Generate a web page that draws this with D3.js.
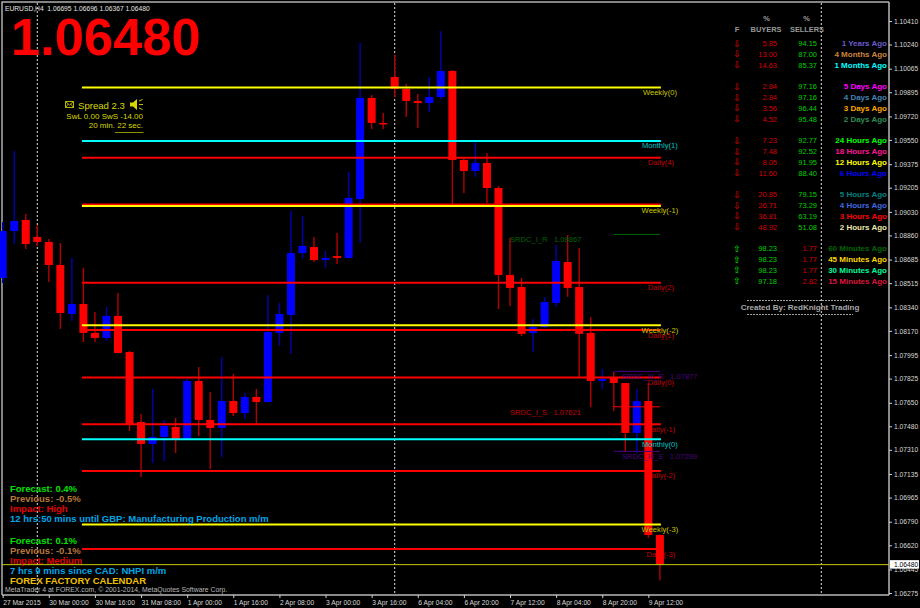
<!DOCTYPE html>
<html lang="en">
<head>
  <meta charset="UTF-8">
  <title>EURUSD H4</title>
  <script src="https://d3js.org/d3.v7.min.js"></script>
  <style>
    html, body { margin: 0; padding: 0; background: #000; }
    svg { display: block; }
    text { font-family: "Liberation Sans", Arial, sans-serif; }
    .axis text { fill: #d8d8d8; font-size: 6.7px; font-family: "Liberation Sans", Arial, sans-serif; }
    .axis line { stroke: #d0d0d0; }
    .axis path { stroke: #b8b8b8; stroke-width: 1.5px; }
    .news { font-size: 9.5px; font-weight: bold; }
    .ago { font-size: 8px; font-weight: bold; text-anchor: end; }
    .pct { font-size: 7.5px; text-anchor: end; }
    .head { font-size: 7.4px; font-weight: bold; fill: #999; text-anchor: middle; }
    .lvl { font-size: 7.6px; text-anchor: middle; }
  </style>
</head>
<body>
  <svg width="920" height="608"></svg>
  <script>
    // EURUSD H4 candles, index 0 = 27 Mar 2015
    const barOpen = [1.08552,1.08892,1.08972,1.08849,1.08813,1.08646,1.08292,1.08364,1.08155,1.08119,
      1.08278,1.08017,1.07511,1.07352,1.07403,1.07475,1.07388,1.07808,1.07526,1.07468,
      1.07663,1.07576,1.07692,1.07656,1.08155,1.08285,1.08733,1.08776,1.08682,1.08711,
      1.08697,1.09123,1.09854,1.09673,1.10005,1.09919,1.09832,1.09817,1.09861,1.10049,
      1.09405,1.09326,1.09384,1.09203,1.08574,1.08487,1.08155,1.08198,1.08372,1.08668,
      1.08487,1.08155,1.07808,1.07837,1.07793,1.07432,1.07663,1.06695];
    const barHigh = [1.08957,1.09470,1.09015,1.08935,1.08834,1.08805,1.08697,1.08625,1.08307,1.08343,
      1.08444,1.08025,1.07569,1.07750,1.07526,1.07540,1.07822,1.07909,1.07728,1.07981,
      1.07858,1.07721,1.07750,1.08429,1.08372,1.09037,1.09001,1.08849,1.08748,1.08878,
      1.09319,1.10251,1.09875,1.09745,1.10164,1.09955,1.09882,1.10005,1.10338,1.10056,
      1.09420,1.09535,1.09456,1.09217,1.08841,1.08552,1.08256,1.08415,1.08791,1.08863,
      1.08769,1.08270,1.07894,1.07873,1.07793,1.07750,1.07793,1.06696];
    const barLow = [1.08516,1.08798,1.08762,1.08784,1.08523,1.08184,1.08241,1.08090,1.08090,1.08097,
      1.08010,1.07446,1.07114,1.07215,1.07229,1.07287,1.07388,1.07410,1.07172,1.07258,
      1.07555,1.07533,1.07504,1.07649,1.08061,1.08003,1.08690,1.08668,1.08625,1.08654,
      1.08690,1.08805,1.09629,1.09629,1.09861,1.09716,1.09637,1.09752,1.09846,1.09087,
      1.09167,1.09282,1.09095,1.08328,1.08350,1.08133,1.08017,1.08191,1.08343,1.08415,
      1.07837,1.07620,1.07750,1.07591,1.07294,1.07287,1.06673,1.06367];
    const barClose = [1.08892,1.08964,1.08798,1.08813,1.08646,1.08299,1.08364,1.08155,1.08119,1.08278,
      1.08010,1.07497,1.07352,1.07403,1.07482,1.07388,1.07808,1.07526,1.07468,1.07663,
      1.07576,1.07692,1.07656,1.08162,1.08292,1.08733,1.08784,1.08682,1.08697,1.08697,
      1.09131,1.09854,1.09673,1.09666,1.09919,1.09832,1.09817,1.09861,1.10049,1.09405,
      1.09326,1.09384,1.09203,1.08574,1.08480,1.08148,1.08198,1.08379,1.08675,1.08480,
      1.08148,1.07808,1.07822,1.07793,1.07432,1.07663,1.06694,1.06480];

    const priceTicks = [1.10410,1.10240,1.10065,1.09895,1.09720,1.09550,1.09375,1.09205,1.09030,1.08860,
      1.08685,1.08515,1.08340,1.08170,1.07995,1.07825,1.07650,1.07480,1.07310,1.07135,
      1.06965,1.06790,1.06620,1.06445,1.06275];
    const timeTickBars = [0,4,8,12,16,20,24,28,32,36,40,44,48,52,56];
    const timeLabels = ["27 Mar 2015","30 Mar 00:00","30 Mar 16:00","31 Mar 08:00","1 Apr 00:00","1 Apr 16:00",
      "2 Apr 08:00","3 Apr 00:00","3 Apr 16:00","6 Apr 04:00","6 Apr 20:00","7 Apr 12:00",
      "8 Apr 04:00","8 Apr 20:00","9 Apr 12:00"];
    const separatorBars = [3, 34, 71];

    const lastPrice = 1.06480;

    // pivot levels
    const dailyNames = ["Daily(4)","Daily(3)","Daily(2)","Daily(1)","Daily(0)","Daily(-1)","Daily(-2)","Daily(-3)"];
    const dailyValues = [1.09422,1.09084,1.08518,1.08176,1.07833,1.07495,1.07157,1.06593];
    const weeklyNames = ["Weekly(0)","Weekly(-1)","Weekly(-2)","Weekly(-3)"];
    const weeklyValues = [1.09929,1.09073,1.08210,1.06770];
    const monthlyNames = ["Monthly(1)","Monthly(0)"];
    const monthlyValues = [1.09543,1.07386];

    // support / resistance boxes
    const srdcNames = ["SRDC_I_R","SRDC_I_S","SRDC_III_R","SRDC_III_S"];
    const srdcValues = [1.08867,1.07621,1.07877,1.07299];
    const srdcColors = ["#006400","#ff0000","#4b0082","#4b0082"];

    // sentiment table
    const agoLabels = ["1 Years Ago","4 Months Ago","1 Months Ago","5 Days Ago","4 Days Ago","3 Days Ago","2 Days Ago",
      "24 Hours Ago","18 Hours Ago","12 Hours Ago","6 Hours Ago","5 Hours Ago","4 Hours Ago","3 Hours Ago","2 Hours Ago",
      "60 Minutes Ago","45 Minutes Ago","30 Minutes Ago","15 Minutes Ago"];
    const agoColors = ["#6a5acd","#cd853f","#00ffff","#ff00ff","#4682b4","#ffa500","#2e8b57",
      "#00ff00","#ff1493","#ffff00","#0000ff","#008080","#4169e1","#ff0000","#eee8aa",
      "#006400","#ffd700","#00fa9a","#dc143c"];
    const buyers = [5.85,13.00,14.63,2.84,2.84,3.56,4.52,7.23,7.48,8.05,11.60,20.85,26.71,36.81,48.92,98.23,98.23,98.23,97.18];
    const sellers = [94.15,87.00,85.37,97.16,97.16,96.44,95.48,92.77,92.52,91.95,88.40,79.15,73.29,63.19,51.08,1.77,1.77,1.77,2.82];

    const newsLines = [
      ["Forecast: 0.4%", "#00e000", 488.3],
      ["Previous: -0.5%", "#b8773a", 498.7],
      ["Impact: High", "#e00000", 508.7],
      ["12 hrs:50 mins until GBP: Manufacturing Production m/m", "#00a5e6", 518.7],
      ["Forecast: 0.1%", "#00e000", 540.3],
      ["Previous: -0.1%", "#b8773a", 550.7],
      ["Impact: Medium", "#e00000", 561],
      ["7 hrs 9 mins since CAD: NHPI m/m", "#00a5e6", 571],
      ["FOREX FACTORY CALENDAR", "#f0c000", 581]
    ];

    const svg = d3.select("svg");

    const x = d3.scaleLinear().domain([0, 57]).range([2.7, 659.9]);
    const y = d3.scaleLinear().domain([1.10410, 1.06275]).range([21, 593]);

    const plotRight = 889, plotBottom = 595, plotLeft = 2, plotTop = 2;
    const bars = d3.range(barOpen.length);
    const lineX0 = x(7) - 1.5, lineX1 = x(57) + 1;

    // frame and axes
    svg.append("path")
      .attr("d", `M${plotLeft},${plotBottom}V${plotTop}H${plotRight}`)
      .attr("fill", "none")
      .attr("stroke", "#b0b0b0")
      .attr("stroke-width", 1.5);

    const yAxis = d3.axisRight(y).tickValues(priceTicks).tickSize(3).tickPadding(2).tickFormat(d3.format(".5f"));
    svg.append("g").attr("class", "axis").attr("transform", `translate(${plotRight},0)`).call(yAxis)
      .call(g => g.select(".domain").attr("d", `M0,${plotTop}V${plotBottom}`));

    const xAxis = d3.axisBottom(x).tickValues(timeTickBars).tickSize(3).tickPadding(2)
      .tickFormat((d, i) => timeLabels[i]);
    svg.append("g").attr("class", "axis").attr("transform", `translate(0,${plotBottom})`).call(xAxis)
      .call(g => g.select(".domain").attr("d", `M${plotLeft},0H${plotRight}`))
      .call(g => g.selectAll("text").attr("text-anchor", "start"));

    // period separators
    svg.selectAll(".sep").data(separatorBars).enter().append("line")
      .attr("class", "sep")
      .attr("x1", d => x(d)).attr("x2", d => x(d))
      .attr("y1", plotTop + 1).attr("y2", plotBottom - 1)
      .attr("stroke", "#e0e0e0")
      .attr("stroke-dasharray", "2,2");

    // daily labels sit behind the candles
    svg.selectAll(".daily-label").data(dailyNames.filter(d => d !== "Daily(3)")).enter().append("text")
      .attr("class", "lvl")
      .attr("x", x(57) + 1)
      .attr("y", d => y(dailyValues[dailyNames.indexOf(d)]) + 7.5)
      .attr("fill", "#c00000")
      .text(d => d);

    // candles
    const bull = i => barClose[i] >= barOpen[i];
    svg.selectAll(".wick").data(bars).enter().append("line")
      .attr("class", "wick")
      .attr("x1", i => x(i)).attr("x2", i => x(i))
      .attr("y1", i => y(barHigh[i])).attr("y2", i => y(barLow[i]))
      .attr("stroke", i => bull(i) ? "#0000b4" : "#b40000")
      .attr("stroke-width", 1.4);

    svg.selectAll(".body").data(bars).enter().append("rect")
      .attr("class", "body")
      .attr("x", i => x(i) - 4)
      .attr("width", 8)
      .attr("y", i => y(Math.max(barOpen[i], barClose[i])))
      .attr("height", i => Math.max(1.5, Math.abs(y(barOpen[i]) - y(barClose[i]))))
      .attr("fill", i => bull(i) ? "#0000ff" : "#ff0000");

    // level lines
    function levelLines(values, color) {
      svg.append("g").selectAll("line").data(values).enter().append("line")
        .attr("x1", lineX0).attr("x2", lineX1)
        .attr("y1", d => y(d)).attr("y2", d => y(d))
        .attr("stroke", color)
        .attr("stroke-width", 2);
    }
    levelLines(dailyValues, "#ff0000");
    levelLines(monthlyValues, "#00ffff");
    levelLines(weeklyValues, "#ffff00");

    // SRDC short lines
    svg.selectAll(".srdc").data(srdcValues).enter().append("line")
      .attr("class", "srdc")
      .attr("x1", x(53)).attr("x2", x(57))
      .attr("y1", d => y(d)).attr("y2", d => y(d))
      .attr("stroke", (d, i) => srdcColors[i])
      .attr("stroke-width", 1);

    svg.selectAll(".srdc-label").data(srdcNames).enter().append("text")
      .attr("class", "srdc-label")
      .attr("x", (d, i) => i < 2 ? 510 : 622)
      .attr("y", (d, i) => y(srdcValues[i]) + 8)
      .attr("fill", (d, i) => srdcColors[i] === "#ff0000" ? "#c00000" : srdcColors[i])
      .attr("font-size", 7.6)
      .attr("xml:space", "preserve")
      .text((d, i) => d + "   " + srdcValues[i].toFixed(5));

    // weekly / monthly labels go over the candles
    svg.selectAll(".weekly-label").data(weeklyNames).enter().append("text")
      .attr("class", "lvl")
      .attr("x", x(57))
      .attr("y", (d, i) => y(weeklyValues[i]) + 7.5)
      .attr("fill", "#c8c800")
      .text(d => d);
    svg.selectAll(".monthly-label").data(monthlyNames).enter().append("text")
      .attr("class", "lvl")
      .attr("x", x(57))
      .attr("y", (d, i) => y(monthlyValues[i]) + 7.5)
      .attr("fill", "#00c8c8")
      .text(d => d);

    // bid line and price tag
    svg.append("line")
      .attr("x1", plotLeft).attr("x2", plotRight)
      .attr("y1", y(lastPrice)).attr("y2", y(lastPrice))
      .attr("stroke", "#c8c800")
      .attr("stroke-width", 1);
    svg.append("rect")
      .attr("x", plotRight + 1).attr("y", y(lastPrice) - 4.5)
      .attr("width", 29).attr("height", 8.5)
      .attr("fill", "#fff");
    svg.append("text")
      .attr("x", plotRight + 5).attr("y", y(lastPrice) + 2)
      .attr("fill", "#000")
      .attr("font-size", 6.7)
      .text(lastPrice.toFixed(5));

    // chart title and big price
    svg.append("text")
      .attr("x", 5).attr("y", 10.5)
      .attr("fill", "#e4e4e4")
      .attr("font-size", 6.7)
      .attr("xml:space", "preserve")
      .text("EURUSD,H4  1.06695 1.06696 1.06367 1.06480");
    svg.append("text")
      .attr("x", 11).attr("y", 55)
      .attr("fill", "#ff0000")
      .attr("font-size", 52.5)
      .attr("font-weight", "bold")
      .text(lastPrice.toFixed(5));

    // spread panel
    const spread = svg.append("g").attr("fill", "#d8d800");
    spread.append("path")
      .attr("d", "M65.5,101.5H73.5V107.5H65.5ZM65.5,101.5L69.5,105L73.5,101.5M65.5,107.5L68.3,104M73.5,107.5L70.7,104")
      .attr("fill", "none").attr("stroke", "#c8c800").attr("stroke-width", 0.9);
    spread.append("text").attr("x", 78).attr("y", 108.5).attr("font-size", 9.6).text("Spread 2.3");
    spread.append("path").attr("d", "M130,102.5H133L137,99V110L133,106.5H130Z");
    spread.append("path")
      .attr("d", "M139,101L142.5,99.5M139,104.5H143M139,108L142.5,109.5")
      .attr("fill", "none").attr("stroke", "#d8d800").attr("stroke-width", 0.9);
    spread.append("text").attr("x", 143).attr("y", 119).attr("font-size", 8).attr("text-anchor", "end").text("SwL 0.00 SwS -14.00");
    spread.append("text").attr("x", 143).attr("y", 127.5).attr("font-size", 8).attr("text-anchor", "end").text("20 min. 22 sec.");
    spread.append("line").attr("x1", 115).attr("x2", 143.5).attr("y1", 132.5).attr("y2", 132.5).attr("stroke", "#909000");

    // sentiment table
    const rowY = i => 43.3 + 10.8 * (i + Math.floor((i + 1) / 4));
    svg.append("text").attr("class", "head").attr("x", 737).attr("y", 32).text("F");
    svg.append("text").attr("class", "head").attr("x", 766.5).attr("y", 21).text("%");
    svg.append("text").attr("class", "head").attr("x", 766).attr("y", 32).text("BUYERS");
    svg.append("text").attr("class", "head").attr("x", 806.5).attr("y", 21).text("%");
    svg.append("text").attr("class", "head").attr("x", 807).attr("y", 32).text("SELLERS");

    const rows = svg.selectAll(".row").data(agoLabels).enter().append("g").attr("class", "row");
    rows.append("text")
      .attr("x", 737).attr("y", (d, i) => rowY(i) + 3.2)
      .attr("text-anchor", "middle")
      .style("font-family", "'DejaVu Sans'")
      .attr("font-size", 9)
      .attr("fill", (d, i) => buyers[i] > 50 ? "#00f000" : "#f00000")
      .text((d, i) => buyers[i] > 50 ? "\u21E7" : "\u21E9");
    rows.append("text").attr("class", "pct")
      .attr("x", 777).attr("y", (d, i) => rowY(i) + 2.8)
      .attr("fill", (d, i) => buyers[i] > 50 ? "#00d000" : "#d80000")
      .text((d, i) => buyers[i].toFixed(2));
    rows.append("text").attr("class", "pct")
      .attr("x", 817).attr("y", (d, i) => rowY(i) + 2.8)
      .attr("fill", (d, i) => sellers[i] > 50 ? "#00d000" : "#d80000")
      .text((d, i) => sellers[i].toFixed(2));
    rows.append("text").attr("class", "ago")
      .attr("x", 887).attr("y", (d, i) => rowY(i) + 2.9)
      .attr("fill", (d, i) => agoColors[i])
      .text(d => d);

    svg.append("text")
      .attr("x", 800).attr("y", 309.5)
      .attr("text-anchor", "middle")
      .attr("fill", "#a8a8a8")
      .attr("font-size", 8)
      .attr("font-weight", "bold")
      .text("Created By: RedKnight Trading");
    svg.selectAll(".rule").data([300.5, 314.5]).enter().append("line")
      .attr("class", "rule")
      .attr("x1", 747).attr("x2", 853)
      .attr("y1", d => d).attr("y2", d => d)
      .attr("stroke", "#a0a0a0")
      .attr("stroke-dasharray", "2,1");

    // news block, bottom left
    svg.selectAll(".news").data(newsLines).enter().append("text")
      .attr("class", "news")
      .attr("x", 10)
      .attr("y", d => d[2] + 3.3)
      .attr("fill", d => d[1])
      .text(d => d[0]);

    svg.append("text")
      .attr("x", 5).attr("y", 592)
      .attr("fill", "#b8b8b8")
      .attr("font-size", 6.9)
      .text("MetaTrader 4 at FOREX.com, \u00A9 2001-2014, MetaQuotes Software Corp.");
  </script>
</body>
</html>
